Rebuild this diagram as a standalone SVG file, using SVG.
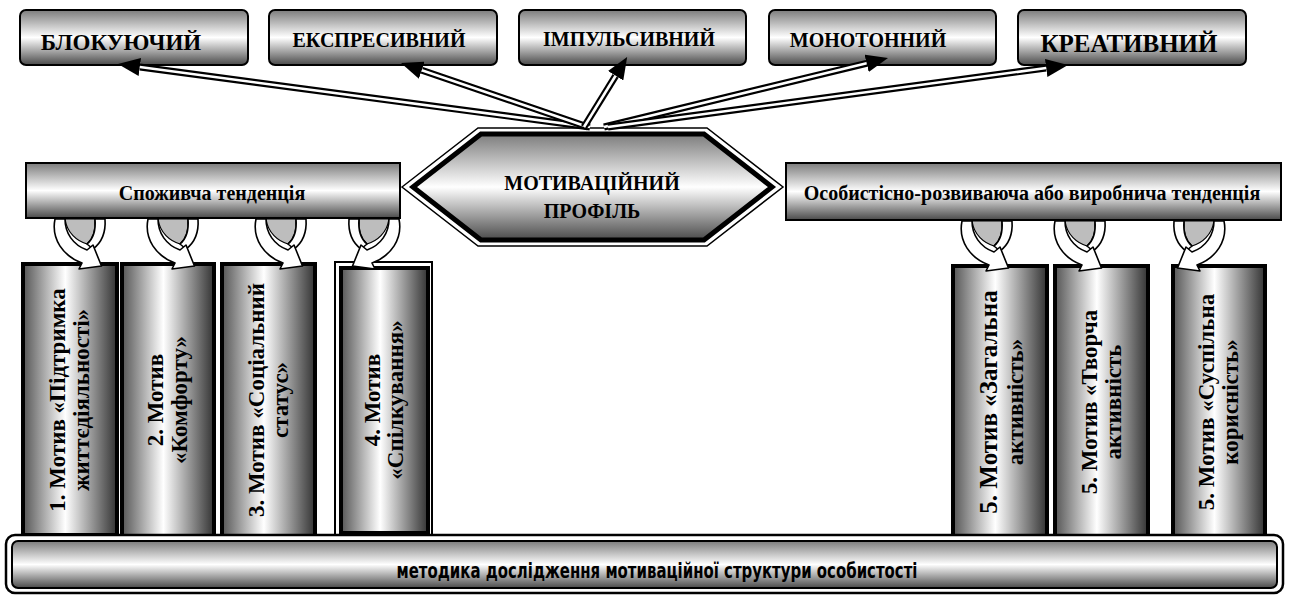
<svg xmlns="http://www.w3.org/2000/svg" width="1314" height="595" viewBox="0 0 1314 595">
<style>
.t{font-family:"Liberation Serif","Times New Roman",serif;font-weight:bold;fill:#000;text-anchor:middle}
.tb{stroke:#000;stroke-width:2;fill:url(#gV)}
.bar{stroke:#000;stroke-width:2;fill:url(#gV)}
.vb{stroke:#000;stroke-width:4;fill:url(#gH)}
.dl{stroke:#000;stroke-width:7;fill:none;marker-end:url(#ah)}
.dw{stroke:#fff;stroke-width:2.6;fill:none}
.cw{fill:#fff;stroke:#000;stroke-width:1.6;stroke-linejoin:round}
.cg{fill:#bdbdbd;stroke:#000;stroke-width:1.2}
</style>
<defs>
<linearGradient id="gV" x1="0" y1="0" x2="0" y2="1">
<stop offset="0" stop-color="#7c7c7c"/>
<stop offset="0.5" stop-color="#ffffff"/>
<stop offset="1" stop-color="#4a4a4a"/>
</linearGradient>
<linearGradient id="gH" x1="0" y1="0" x2="1" y2="0">
<stop offset="0" stop-color="#555"/>
<stop offset="0.45" stop-color="#fff"/>
<stop offset="1" stop-color="#333"/>
</linearGradient>
<marker id="ah" viewBox="0 0 22 18" refX="0" refY="9" markerWidth="22" markerHeight="18" markerUnits="userSpaceOnUse" orient="auto">
<path d="M0,0 L22,9 L0,18 Z" fill="#000"/>
</marker>
<g id="curl">
<path class="cg" d="M10,0 L40,0 C41,12 38,20 32,25 C22,22 12,14 10,0 Z"/>
<path class="cw" d="M40,0 L50,0 C51,14 46,24 38,30 L32,25 C38,20 41,12 40,0 Z"/>
<path class="cw" d="M0,0 L10,0 C10,14 18,26 32,31 L38,26 L46.5,47 L24,50 L27,44 C8,37 -4,20 0,0 Z"/>
</g>
</defs>
<rect width="1314" height="595" fill="#fff"/>

<g id="top-blokuyuchyi"><rect class="tb" x="20" y="10" width="228" height="55" rx="6"/><text class="t" x="121" y="50" font-size="23">БЛОКУЮЧИЙ</text></g>
<g id="top-ekspresyvnyi"><rect class="tb" x="269" y="10" width="228" height="55" rx="6"/><text class="t" x="379" y="47" font-size="20">ЕКСПРЕСИВНИЙ</text></g>
<g id="top-impulsyvnyi"><rect class="tb" x="519" y="10" width="227" height="55" rx="6"/><text class="t" x="629" y="46" font-size="20">ІМПУЛЬСИВНИЙ</text></g>
<g id="top-monotonnyi"><rect class="tb" x="769" y="10" width="227" height="55" rx="6"/><text class="t" x="868" y="47" font-size="20">МОНОТОННИЙ</text></g>
<g id="top-kreatyvnyi"><rect class="tb" x="1018" y="10" width="228" height="55" rx="6"/><text class="t" x="1129" y="52" font-size="25">КРЕАТИВНИЙ</text></g>

<g id="bar-left"><rect class="bar" x="26" y="163" width="374" height="55"/><text class="t" x="212" y="200" font-size="20">Споживча тенденція</text></g>
<g id="bar-right"><rect class="bar" x="786" y="163" width="495" height="57"/><text class="t" x="1032" y="200" font-size="20">Особистісно-розвиваюча або виробнича тенденція</text></g>

<g id="profile">
<polygon points="402,187 478,128 707,128 783,187 707,246 478,246" fill="#fff" stroke="#000" stroke-width="1.5"/>
<polygon points="413,187 481,134 704,134 772,187 704,240 481,240" fill="url(#gV)" stroke="#000" stroke-width="5" stroke-linejoin="miter"/>
<text class="t" x="592" y="190" font-size="20">МОТИВАЦІЙНИЙ</text>
<text class="t" x="592" y="218" font-size="20">ПРОФІЛЬ</text>
</g>

<g id="motive-1"><rect class="vb" x="23" y="264" width="94" height="271"/><text class="t" font-size="23" transform="translate(70,400) rotate(-90)"><tspan x="0" y="-5">1. Мотив «Підтримка</tspan><tspan x="0" y="19">життєдіяльності»</tspan></text></g>
<g id="motive-2"><rect class="vb" x="122" y="264" width="92" height="273"/><text class="t" font-size="23" transform="translate(168,400) rotate(-90)"><tspan x="0" y="-5">2. Мотив</tspan><tspan x="0" y="19">«Комфорту»</tspan></text></g>
<g id="motive-3"><rect class="vb" x="222" y="264" width="93" height="273"/><text class="t" font-size="23" transform="translate(268.5,400) rotate(-90)"><tspan x="0" y="-5">3. Мотив «Соціальний</tspan><tspan x="0" y="19">статус»</tspan></text></g>
<g id="motive-4"><rect x="335" y="262" width="97" height="275" fill="#fff" stroke="#000" stroke-width="2"/><rect class="vb" x="341" y="268" width="87" height="265" stroke-width="3.5"/><text class="t" font-size="23" transform="translate(384,400) rotate(-90)"><tspan x="0" y="-4">4. Мотив</tspan><tspan x="0" y="19">«Спілкування»</tspan></text></g>
<g id="motive-5a"><rect class="vb" x="953" y="266" width="94" height="271"/><text class="t" transform="translate(1000,402) rotate(-90)"><tspan x="0" y="-3" font-size="25">5. Мотив «Загальна</tspan><tspan x="0" y="23" font-size="23">активність»</tspan></text></g>
<g id="motive-5b"><rect class="vb" x="1055" y="266" width="93" height="271"/><text class="t" font-size="23" transform="translate(1101.5,402) rotate(-90)"><tspan x="0" y="-5">5. Мотив «Творча</tspan><tspan x="0" y="19">активність</tspan></text></g>
<g id="motive-5c"><rect class="vb" x="1173" y="266" width="92" height="271"/><text class="t" font-size="23" transform="translate(1219,402) rotate(-90)"><tspan x="0" y="-5">5. Мотив «Суспільна</tspan><tspan x="0" y="19">корисність»</tspan></text></g>

<g id="method">
<rect x="6" y="535" width="1277" height="58" rx="9" fill="#fff" stroke="#000" stroke-width="2.5"/>
<rect x="12" y="541" width="1265" height="47" rx="6" fill="url(#gV)" stroke="#000" stroke-width="2"/>
<text x="657" y="578" font-size="21" font-family="'Liberation Sans Narrow','Arial Narrow','DejaVu Sans Condensed','Liberation Sans',sans-serif" font-weight="bold" text-anchor="middle" textLength="521" lengthAdjust="spacingAndGlyphs">методика дослідження мотиваційної структури особистості</text>
</g>

<g id="connectors">
<path class="dl" d="M590,127 L139.8,67"/><path class="dw" d="M590,127 L139.8,67"/>
<path class="dl" d="M588,127 L421.8,70.2"/><path class="dw" d="M588,127 L421.8,70.2"/>
<path class="dl" d="M584,127 L615.6,75.8"/><path class="dw" d="M584,127 L615.6,75.8"/>
<path class="dl" d="M604,127 L866.6,63.3"/><path class="dw" d="M604,127 L866.6,63.3"/>
<path class="dl" d="M608,127 L1046.2,68"/><path class="dw" d="M608,127 L1046.2,68"/>
<use href="#curl" transform="translate(55,219)"/>
<use href="#curl" transform="translate(148,219)"/>
<use href="#curl" transform="translate(256,219)"/>
<use href="#curl" transform="translate(399,219) scale(-1,1)"/>
<use href="#curl" transform="translate(962,221)"/>
<use href="#curl" transform="translate(1055,221)"/>
<use href="#curl" transform="translate(1224,221) scale(-1,1)"/>
</g>
</svg>
